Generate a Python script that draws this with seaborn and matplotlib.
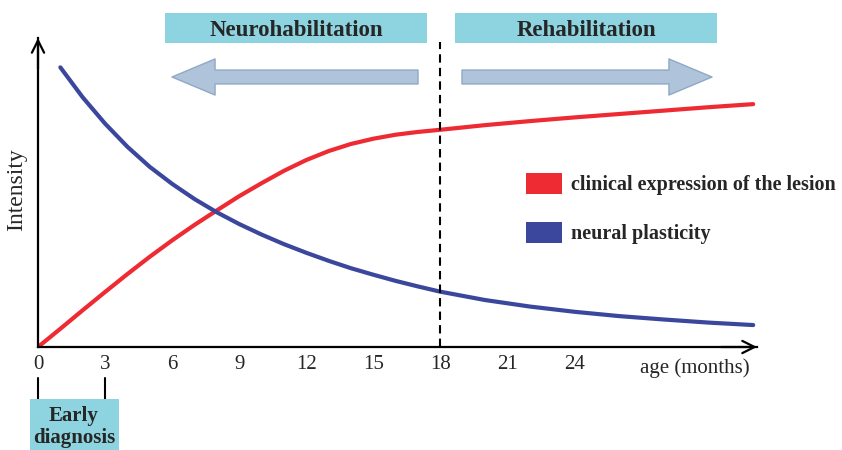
import matplotlib
matplotlib.use("Agg")
import matplotlib.pyplot as plt
import matplotlib.transforms as mtransforms
from matplotlib.patches import Rectangle, Patch, FancyArrowPatch
import seaborn as sns
import pandas as pd

# values (x = age in months, y = intensity 0..100)
red_months = [0, 1, 2, 3, 4, 5, 6, 7, 8, 9, 10, 11, 12, 13, 14, 15, 16, 17, 18,
              20, 22, 24, 26, 28, 30, 32]
red_values = [0, 5.9, 11.9, 17.8, 23.6, 29.2, 34.5, 39.5, 44.2, 48.8, 53.0, 57.0, 60.5,
              63.4, 65.7, 67.4, 68.7, 69.6, 70.3, 71.8, 73.1, 74.3, 75.4, 76.5, 77.6, 78.6]

blue_months = [1, 2, 3, 4, 5, 6, 7, 8, 9, 10, 11, 12, 13, 14, 15, 16, 17, 18,
               20, 22, 24, 26, 28, 30, 32]
blue_values = [90.5, 80.8, 72.3, 64.8, 58.3, 52.8, 47.9, 43.6, 39.8, 36.4, 33.3, 30.5,
               27.9, 25.5, 23.4, 21.4, 19.6, 17.9, 15.2, 13.1, 11.4, 10.0, 8.9, 7.9, 7.1]

tick_months = [0, 3, 6, 9, 12, 15, 18, 21, 24]
series_names = ["clinical expression of the lesion", "neural plasticity"]
colors = {"clinical expression of the lesion": "#EE2A33", "neural plasticity": "#3B479C"}
box_color = "#8DD4E0"
arrow_color = "#AFC4DA"

W, H = 842, 450


def px(x, y):
    # pixel position (from top-left) -> figure fraction
    return x / W, 1 - y / H


df = pd.concat([
    pd.DataFrame({"month": red_months, "intensity": red_values, "series": series_names[0]}),
    pd.DataFrame({"month": blue_months, "intensity": blue_values, "series": series_names[1]}),
])

sns.set_style("white")
plt.rcParams["font.family"] = ["Liberation Serif", "DejaVu Serif"]

fig = plt.figure(figsize=(W / 100, H / 100), dpi=100)
x0, y0 = 38, 347
x1, y1 = 757, 38
ax = fig.add_axes([x0 / W, 1 - y0 / H, (x1 - x0) / W, (y0 - y1) / H])

sns.lineplot(data=df, x="month", y="intensity", hue="series", palette=colors,
             linewidth=3, legend=False, ax=ax)

ax.set_xlim(0, 32.17)
ax.set_ylim(0, 100)
sns.despine(ax=ax)
for s in ["left", "bottom"]:
    ax.spines[s].set_color("black")
    ax.spines[s].set_linewidth(1.6)

ax.set_xticks(tick_months)
ax.set_xticklabels([str(t) for t in tick_months], fontsize=15)
ax.set_yticks([])
ax.tick_params(axis="x", which="major", length=0, pad=6)
ax.set_xticks([0, 3], minor=True)
ax.tick_params(axis="x", which="minor", length=7, width=1.5, color="black", direction="out")
ax.set_xlabel("")
ax.set_ylabel("")

# axis arrowheads
ax.annotate("", xy=(0, 1), xytext=(0, 0.9), xycoords="axes fraction",
            arrowprops=dict(arrowstyle="->", lw=1.6, color="black", mutation_scale=22,
                            shrinkA=0, shrinkB=0))
ax.annotate("", xy=(1, 0), xytext=(0.95, 0), xycoords="axes fraction",
            arrowprops=dict(arrowstyle="->", lw=1.6, color="black", mutation_scale=22,
                            shrinkA=0, shrinkB=0))

# dashed divider at 18 months
ax.axvline(18, ymin=0, ymax=(y0 - 42) / (y0 - y1), color="black", lw=1.5, ls=(0, (4, 2.5)))

fig.text(*px(17, 190), "Intensity", rotation=90, ha="center", va="center", fontsize=17)
fig.text(*px(750, 368), "age (months)", ha="right", va="center", fontsize=15)

# early diagnosis bracket
blend = mtransforms.blended_transform_factory(ax.transData, fig.transFigure)
for m in [0, 3]:
    ax.plot([m, m], [1 - 378 / H, 1 - 400 / H], color="black", lw=1.5,
            transform=blend, clip_on=False)
fig.patches.append(Rectangle(px(30, 450), 89 / W, 51 / H, transform=fig.transFigure,
                             facecolor=box_color, edgecolor="none"))
fig.text(*px(74, 427), "Early\ndiagnosis", ha="center", va="center", fontsize=15,
         fontweight="bold", linespacing=1.15)

# header boxes
for left, right, label in [(165, 427, "Neurohabilitation"), (455, 717, "Rehabilitation")]:
    fig.patches.append(Rectangle(px(left, 43), (right - left) / W, 30 / H,
                                 transform=fig.transFigure, facecolor=box_color,
                                 edgecolor="none"))
    fig.text(*px((left + right) / 2, 30), label, ha="center", va="center",
             fontsize=16.5, fontweight="bold")

# block arrows
style = "simple,head_length=31,head_width=26,tail_width=10"
for start, end in [((418, 77), (172, 77)), ((462, 77), (712, 77))]:
    fig.patches.append(FancyArrowPatch(px(*start), px(*end), arrowstyle=style,
                                       mutation_scale=1, transform=fig.transFigure,
                                       facecolor=arrow_color, edgecolor="#8FA8C4",
                                       lw=1, shrinkA=0, shrinkB=0))

# legend
handles = [Patch(facecolor=colors[n], edgecolor="none", label=n) for n in series_names]
ax.legend(handles=handles, loc="upper left", bbox_to_anchor=px(526, 173),
          bbox_transform=fig.transFigure, frameon=False, borderpad=0, borderaxespad=0,
          handlelength=1.8, handleheight=1.2, handletextpad=0.45, labelspacing=1.35,
          prop={"size": 14.5, "weight": "bold"})

fig.savefig("out.png", dpi=100)
